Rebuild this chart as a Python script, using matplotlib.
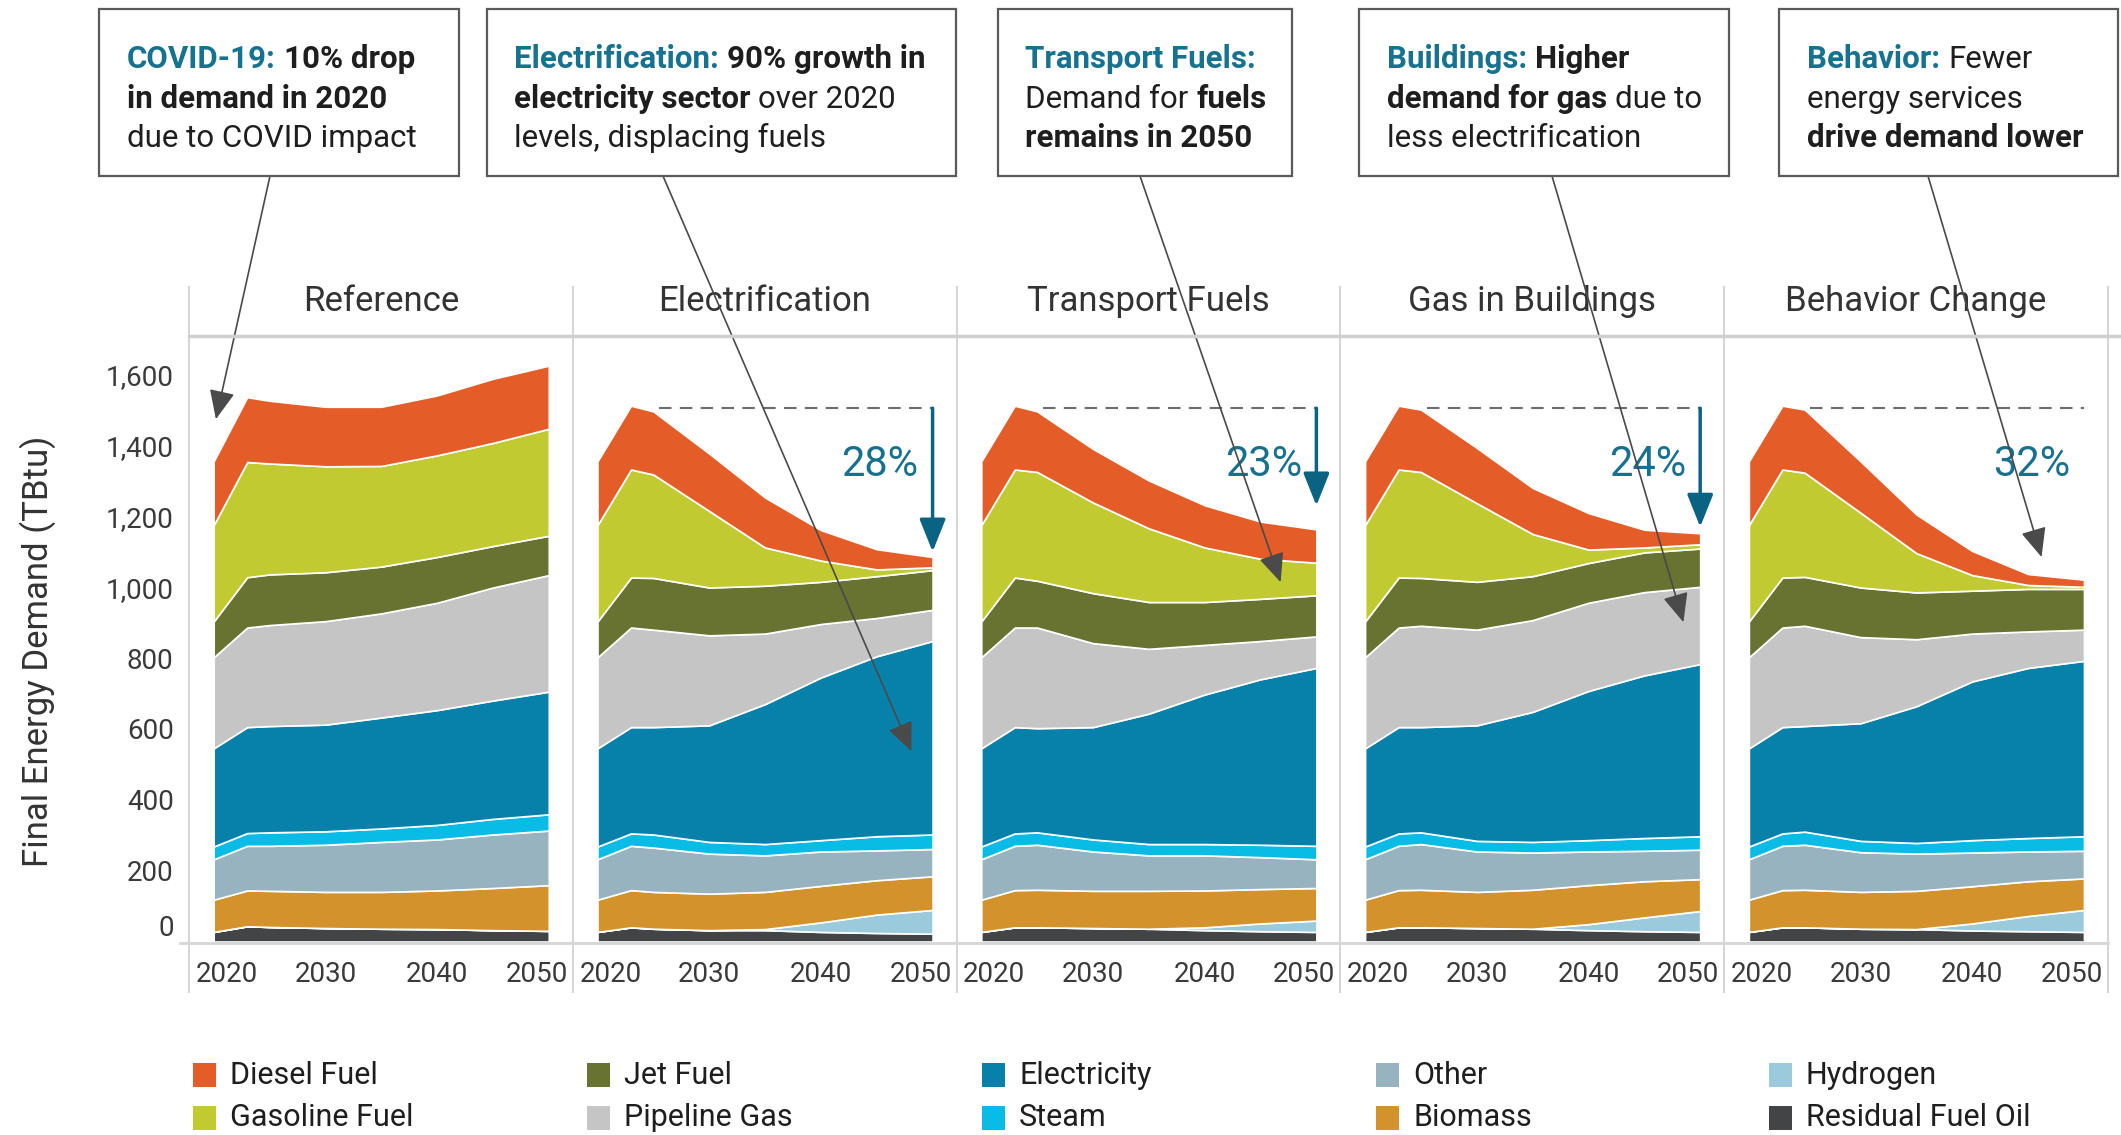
import matplotlib
matplotlib.use("Agg")
import matplotlib.pyplot as plt
from matplotlib.lines import Line2D
from matplotlib.patches import Rectangle
from matplotlib.transforms import ScaledTranslation

W, H, DPI = 2121, 1135, 100

years = [2020, 2023, 2025, 2030, 2035, 2040, 2045, 2050]
scenarios = ["Reference", "Electrification", "Transport Fuels", "Gas in Buildings", "Behavior Change"]

# stacking order, bottom -> top
fuels = ["Residual Fuel Oil", "Hydrogen", "Biomass", "Other", "Steam",
         "Electricity", "Pipeline Gas", "Jet Fuel", "Gasoline Fuel", "Diesel Fuel"]
fuel_colors = {
    "Residual Fuel Oil": "#434446",
    "Hydrogen": "#9bcadd",
    "Biomass": "#d3922b",
    "Other": "#97b3bf",
    "Steam": "#08bce5",
    "Electricity": "#0781aa",
    "Pipeline Gas": "#c5c5c5",
    "Jet Fuel": "#687231",
    "Gasoline Fuel": "#c2ca32",
    "Diesel Fuel": "#e45c27",
}

# TBtu
reference = {
    "Residual Fuel Oil": [27, 43, 41, 38, 36, 35, 32, 30],
    "Hydrogen":          [0, 0, 0, 0, 0, 0, 0, 0],
    "Biomass":           [91, 101, 102, 102, 104, 109, 119, 129],
    "Other":             [114, 126, 127, 133, 141, 144, 151, 154],
    "Steam":             [36, 36, 38, 38, 38, 41, 44, 46],
    "Electricity":       [277, 299, 300, 301, 313, 324, 334, 346],
    "Pipeline Gas":      [257, 281, 285, 292, 294, 303, 319, 329],
    "Jet Fuel":          [101, 142, 143, 138, 132, 129, 117, 111],
    "Gasoline Fuel":     [272, 325, 313, 299, 284, 287, 291, 302],
    "Diesel Fuel":       [180, 183, 177, 168, 167, 169, 181, 178],
}
electrification = {
    "Residual Fuel Oil": [27, 40, 36, 32, 32, 27, 24, 22],
    "Hydrogen":          [0, 0, 0, 0, 3, 27, 52, 67],
    "Biomass":           [91, 105, 104, 103, 105, 103, 97, 95],
    "Other":             [114, 125, 125, 113, 103, 97, 84, 77],
    "Steam":             [36, 35, 37, 33, 32, 32, 40, 41],
    "Electricity":       [277, 300, 303, 329, 395, 459, 508, 546],
    "Pipeline Gas":      [257, 281, 275, 254, 199, 151, 108, 88],
    "Jet Fuel":          [101, 141, 146, 135, 135, 119, 118, 112],
    "Gasoline Fuel":     [272, 305, 292, 216, 108, 60, 19, 8],
    "Diesel Fuel":       [180, 180, 178, 162, 141, 86, 57, 29],
}
transport_fuels = {
    "Residual Fuel Oil": [27, 40, 40, 38, 36, 32, 29, 27],
    "Hydrogen":          [0, 0, 0, 0, 0, 8, 22, 32],
    "Biomass":           [91, 105, 106, 105, 107, 104, 97, 92],
    "Other":             [114, 125, 127, 111, 100, 99, 90, 81],
    "Steam":             [36, 35, 35, 34, 32, 32, 35, 38],
    "Electricity":       [277, 300, 294, 317, 368, 422, 467, 502],
    "Pipeline Gas":      [257, 281, 284, 237, 183, 140, 108, 89],
    "Jet Fuel":          [101, 141, 132, 141, 132, 121, 119, 116],
    "Gasoline Fuel":     [272, 305, 307, 256, 208, 154, 113, 92],
    "Diesel Fuel":       [180, 180, 171, 151, 135, 119, 105, 94],
}
gas_buildings = {
    "Residual Fuel Oil": [27, 40, 40, 38, 36, 32, 29, 27],
    "Hydrogen":          [0, 0, 0, 0, 0, 17, 39, 59],
    "Biomass":           [91, 105, 106, 102, 110, 110, 102, 90],
    "Other":             [114, 125, 129, 114, 105, 95, 86, 83],
    "Steam":             [36, 35, 33, 30, 30, 32, 36, 38],
    "Electricity":       [277, 300, 297, 326, 367, 421, 459, 486],
    "Pipeline Gas":      [257, 281, 286, 270, 259, 249, 235, 218],
    "Jet Fuel":          [101, 141, 135, 135, 124, 112, 112, 108],
    "Gasoline Fuel":     [272, 305, 299, 222, 119, 38, 14, 12],
    "Diesel Fuel":       [180, 180, 176, 156, 130, 103, 50, 31],
}
behavior_change = {
    "Residual Fuel Oil": [27, 40, 40, 36, 35, 31, 29, 27],
    "Hydrogen":          [0, 0, 0, 0, 0, 20, 43, 62],
    "Biomass":           [91, 105, 106, 104, 108, 105, 98, 89],
    "Other":             [114, 125, 127, 112, 105, 95, 84, 78],
    "Steam":             [36, 35, 37, 32, 30, 35, 38, 41],
    "Electricity":       [277, 300, 298, 332, 386, 448, 480, 495],
    "Pipeline Gas":      [257, 281, 283, 243, 189, 135, 103, 88],
    "Jet Fuel":          [101, 141, 138, 140, 132, 121, 120, 115],
    "Gasoline Fuel":     [272, 305, 294, 211, 111, 44, 11, 6],
    "Diesel Fuel":       [180, 180, 178, 145, 109, 68, 31, 20],
}
scenario_data = [reference, electrification, transport_fuels, gas_buildings, behavior_change]

# reduction callouts
pct_labels = [None, "28%", "23%", "24%", "32%"]
pct_arrow_end = [None, 1100, 1230, 1170, None]
peak_level = 1505

# gray callout arrows: target (year, TBtu) in each panel, start at box bottom (fig px from top)
callout_target = [(2020.2, 1474), (2048.1, 537), (2046.8, 1014), (2048.5, 901), (2046.2, 1085)]
callout_start = [(270, 176), (663, 176), (1140, 176), (1552, 176), (1928, 176)]

TEAL = "#17728f"
DARK = "#1e1e1e"
boxes = [
    ((99, 459), 127, [[("COVID-19:", TEAL, True), ("10% drop", DARK, True)],
                      [("in demand in 2020", DARK, True)],
                      [("due to COVID impact", DARK, False)]]),
    ((487, 956), 514, [[("Electrification:", TEAL, True), ("90% growth in", DARK, True)],
                       [("electricity sector", DARK, True), ("over 2020", DARK, False)],
                       [("levels, displacing fuels", DARK, False)]]),
    ((998, 1292), 1025, [[("Transport Fuels:", TEAL, True)],
                         [("Demand for", DARK, False), ("fuels", DARK, True)],
                         [("remains in 2050", DARK, True)]]),
    ((1359, 1729), 1387, [[("Buildings:", TEAL, True), ("Higher", DARK, True)],
                          [("demand for gas", DARK, True), ("due to", DARK, False)],
                          [("less electrification", DARK, False)]]),
    ((1779, 2118), 1807, [[("Behavior:", TEAL, True), ("Fewer", DARK, False)],
                          [("energy services", DARK, False)],
                          [("drive demand lower", DARK, True)]]),
]

legend_cols = [("Diesel Fuel", "Gasoline Fuel"), ("Jet Fuel", "Pipeline Gas"),
               ("Electricity", "Steam"), ("Other", "Biomass"),
               ("Hydrogen", "Residual Fuel Oil")]

NARROW = ["Roboto", "DejaVu Sans"]
plt.rcParams["font.family"] = ["Roboto", "DejaVu Sans"]
TXT = "#3a3a3a"
GRID = "#d6d6d6"

fig = plt.figure(figsize=(W / DPI, H / DPI), dpi=DPI)

left0 = 189 / W
pw = 383.8 / W
bottom = 1 - 941.5 / H
height = (941.5 - 287) / H


def px_shift(dx, dy):
    return ScaledTranslation(dx / DPI, dy / DPI, fig.dpi_scale_trans)


axes = []
for i, name in enumerate(scenarios):
    ax = fig.add_axes([left0 + i * pw, bottom, pw, height])
    axes.append(ax)
    data = scenario_data[i]
    ax.stackplot(years, [data[f] for f in fuels], colors=[fuel_colors[f] for f in fuels],
                 edgecolor="white", linewidth=1.2)
    ax.set_xlim(2017.79, 2052.15)
    ax.set_ylim(0, 1847)
    for s in ax.spines.values():
        s.set_visible(False)
    ax.set_facecolor("none")

    ax.set_xticks([2020, 2030, 2040, 2050])
    ax.tick_params(axis="x", length=0, pad=14, labelsize=20, labelcolor=TXT)
    xt = ax.xaxis.get_major_ticks()
    xt[0].label1.set_transform(xt[0].label1.get_transform() + px_shift(13, 0))
    xt[-1].label1.set_transform(xt[-1].label1.get_transform() + px_shift(-12, 0))

    if i == 0:
        ticks = list(range(0, 1601, 200))
        ax.set_yticks(ticks)
        ax.set_yticklabels([f"{t:,}" for t in ticks])
        ax.tick_params(axis="y", length=0, pad=11, labelsize=20, labelcolor=TXT)
        z = ax.yaxis.get_major_ticks()[0].label1
        z.set_transform(z.get_transform() + px_shift(0, 16))
    else:
        ax.set_yticks([])

    ax.text(0.5, 0.9786, name, transform=ax.transAxes, ha="center", va="center",
            fontsize=25, color="#333333")

    if pct_labels[i]:
        ax.plot([2025.5, 2050], [peak_level, peak_level], color="#6d6d6d", lw=1.5,
                ls=(0, (6, 4)))
        ax.text(2045.3, 1347, pct_labels[i], ha="center", va="center", fontsize=30,
                color="#17708e")
    if pct_arrow_end[i]:
        ax.annotate("", xy=(2050, pct_arrow_end[i]), xytext=(2050, peak_level),
                    arrowprops=dict(arrowstyle="-|>,head_length=0.5,head_width=0.2",
                                    color="#0a6383", lw=2.5, mutation_scale=40,
                                    shrinkA=0, shrinkB=0))

    sx, sy = callout_start[i]
    ax.annotate("", xy=callout_target[i], xytext=(sx, H - sy), textcoords="figure pixels",
                annotation_clip=False,
                arrowprops=dict(arrowstyle="-|>,head_length=0.5,head_width=0.22",
                                color="#4a4a4a", lw=1.2, mutation_scale=36,
                                shrinkA=0, shrinkB=0))

# panel frame lines
for k in range(6):
    x = (189 + k * 383.8) / W
    fig.add_artist(Line2D([x, x], [1 - 287 / H, 1 - 992 / H], color=GRID, lw=1.5))
fig.add_artist(Line2D([189 / W, 1.0], [1 - 336 / H, 1 - 336 / H], color="#cfcfcf", lw=2.5))
fig.add_artist(Line2D([180 / W, 2108 / W], [1 - 943 / H, 1 - 943 / H], color=GRID, lw=2))

fig.text(38 / W, 1 - 651 / H, "Final Energy Demand (TBtu)", rotation=90, ha="center",
         va="center", fontsize=25, color="#333333")

# annotation boxes with mixed-style text
renderer = fig.canvas.get_renderer()
FS = 22.5
gap = 0.25 * FS * DPI / 72
for (x0, x1), tx, lines in boxes:
    fig.add_artist(Rectangle((x0 / W, 1 - 176 / H), (x1 - x0) / W, (176 - 9) / H,
                             transform=fig.transFigure, fill=False, ec="#5a5a5a", lw=1.6))
    for j, parts in enumerate(lines):
        x = tx
        y = 68 + j * 39.5
        for txt, color, bold in parts:
            t = fig.text(x / W, 1 - y / H, txt, color=color, fontsize=FS,
                         fontweight="bold" if bold else "normal", family=NARROW,
                         ha="left", va="baseline")
            x += t.get_window_extent(renderer=renderer).width + gap

# legend
col_x = [193, 587, 982, 1376, 1769]
row_y = [1075, 1118]
for cx, names in zip(col_x, legend_cols):
    for ry, nm in zip(row_y, names):
        fig.add_artist(Rectangle((cx / W, 1 - (ry + 12) / H), 23 / W, 24 / H,
                                 transform=fig.transFigure, color=fuel_colors[nm], lw=0))
        fig.text((cx + 37) / W, 1 - ry / H, nm, fontsize=22, family=NARROW, color=DARK,
                 ha="left", va="center")

fig.savefig("out.png", dpi=DPI)
